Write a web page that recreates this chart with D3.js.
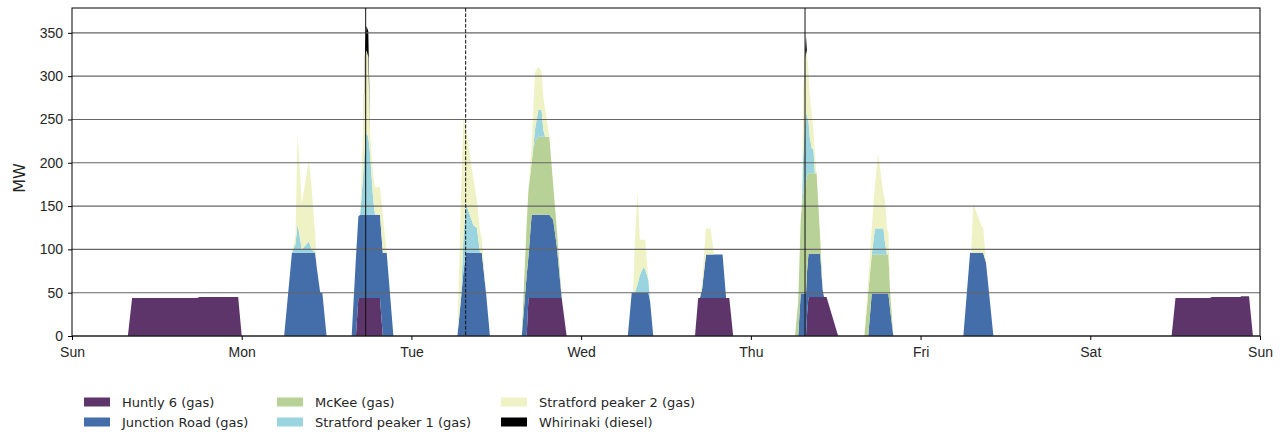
<!DOCTYPE html>
<html>
<head>
<meta charset="utf-8">
<script src="https://cdn.jsdelivr.net/npm/d3@7"></script>
<style>
  body { margin: 0; background: #fff; }
  svg { display: block; font-family: "DejaVu Sans", sans-serif; }
</style>
</head>
<body>
<div id="chart"></div>
<script>
// time in hours since Sunday 00:00, one line per dispatch event
const hours = [0,
  7.9, 8.5, 17.7, 18.0, 23.5, 24.0,
  30.0, 31.1, 31.6, 31.9, 32.5, 33.5, 33.9, 34.4, 34.6, 35.1, 35.4, 36.0,
  39.55, 40.15, 40.5, 40.75, 41.15, 41.45, 41.65, 41.9, 42.15, 42.6, 42.85, 43.45, 43.55, 43.95, 44.5, 45.45,
  54.5, 55.0, 55.35, 55.7, 56.5, 56.75, 57.25, 57.7, 57.95, 58.55, 59.1,
  63.6, 64.3, 64.55, 65.0, 65.25, 65.5, 65.95, 66.4, 66.65, 66.9, 67.5, 68.05, 68.55, 69.25, 69.95,
  78.6, 79.15, 79.35, 79.6, 80.0, 80.3, 80.55, 80.8, 81.05, 81.5, 81.75, 82.2,
  88.1, 88.55, 88.8, 89.1, 89.65, 90.3, 90.8, 92.0, 92.5, 92.95, 93.5,
  102.25, 102.7, 103.05, 103.2, 103.4, 103.65, 103.8, 103.95, 104.15, 104.35, 104.6, 104.85, 105.05, 105.3, 105.8, 106.15, 106.35, 106.7, 108.35,
  112.05, 112.6, 113.1, 113.55, 114.0, 114.5, 114.75, 114.95, 115.25, 115.45, 115.7, 116.15,
  126.05, 127.0, 127.15, 127.45, 128.0, 128.65, 128.85, 129.25, 130.3,
  155.5, 156.05, 160.9, 161.2, 165.2, 165.35, 166.45, 167.0,
  168];

// MW per unit, same positions as hours
const huntly = [0,
  0, 44, 44, 45, 45, 0,
  0, 0, 0, 0, 0, 0, 0, 0, 0, 0, 0, 0,
  0, 0, 44, 44, 44, 44, 44, 44, 44, 44, 44, 44, 44, 0, 0, 0,
  0, 0, 0, 0, 0, 0, 0, 0, 0, 0, 0,
  0, 0, 44, 44, 44, 44, 44, 44, 44, 44, 44, 44, 44, 44, 0,
  0, 0, 0, 0, 0, 0, 0, 0, 0, 0, 0, 0,
  0, 44, 44, 44, 44, 44, 44, 44, 44, 44, 0,
  0, 0, 0, 0, 0, 0, 0, 25, 45, 45, 45, 45, 45, 45, 45, 45, 45, 45, 0,
  0, 0, 0, 0, 0, 0, 0, 0, 0, 0, 0, 0,
  0, 0, 0, 0, 0, 0, 0, 0, 0,
  0, 44, 44, 45, 45, 46, 46, 0,
  0];

const junctionRoad = [0,
  0, 0, 0, 0, 0, 0,
  0, 96, 96, 96, 96, 96, 96, 96, 80, 50, 50, 0,
  0, 90, 94, 96, 96, 96, 96, 96, 96, 96, 96, 96, 96, 96, 96, 0,
  0, 42, 73, 96, 96, 96, 96, 96, 96, 50, 0,
  0, 70, 48, 96, 96, 96, 96, 96, 96, 96, 96, 90, 60, 0, 0,
  0, 50, 50, 50, 50, 50, 50, 50, 50, 50, 40, 0,
  0, 0, 0, 10, 50, 50, 50, 50, 0, 0, 0,
  0, 0, 49, 49, 49, 49, 49, 50, 50, 50, 50, 50, 50, 50, 50, 8, 0, 0, 0,
  0, 0, 49, 49, 49, 49, 49, 49, 49, 49, 30, 0,
  0, 96, 96, 96, 96, 96, 96, 85, 0,
  0, 0, 0, 0, 0, 0, 0, 0,
  0];

const mckee = [0,
  0, 0, 0, 0, 0, 0,
  0, 0, 0, 0, 0, 0, 0, 0, 0, 0, 0, 0,
  0, 0, 0, 0, 0, 0, 0, 0, 0, 0, 0, 0, 0, 0, 0, 0,
  0, 0, 0, 0, 0, 0, 0, 0, 0, 0, 0,
  0, 60, 77, 60, 75, 85, 90, 90, 90, 90, 90, 40, 20, 0, 0,
  0, 0, 0, 0, 0, 0, 0, 0, 0, 0, 0, 0,
  0, 0, 0, 0, 0, 0, 0, 0, 0, 0, 0,
  0, 40, 85, 100, 115, 125, 130, 110, 93, 93, 93, 93, 93, 93, 18, 0, 0, 0, 0,
  0, 50, 45, 45, 45, 45, 45, 45, 45, 45, 20, 0,
  0, 0, 0, 0, 0, 0, 0, 0, 0,
  0, 0, 0, 0, 0, 0, 0, 0,
  0];

const stratford1 = [0,
  0, 0, 0, 0, 0, 0,
  0, 0, 10, 34, 4, 13, 4, 0, 0, 0, 0, 0,
  0, 0, 0, 0, 43, 85, 94, 90, 70, 17, 0, 0, 0, 0, 0, 0,
  0, 0, 40, 57, 38, 32, 29, 0, 0, 0, 0,
  0, 0, 0, 0, 5, 15, 31, 31, 8, 0, 0, 0, 0, 0, 0,
  0, 0, 0, 0, 10, 20, 25, 29, 27, 15, 0, 0,
  0, 0, 0, 0, 0, 0, 0, 0, 0, 0, 0,
  0, 0, 0, 0, 45, 68, 78, 70, 60, 40, 29, 27, 0, 0, 0, 0, 0, 0, 0,
  0, 0, 0, 30, 30, 30, 30, 15, 0, 0, 0, 0,
  0, 0, 0, 0, 0, 0, 0, 0, 0,
  0, 0, 0, 0, 0, 0, 0, 0,
  0];

const stratford2 = [0,
  0, 0, 0, 0, 0, 0,
  0, 0, 10, 104, 53, 94, 70, 20, 0, 0, 0, 0,
  0, 0, 0, 0, 52, 100, 96, 92, 24, 27, 32, 32, 32, 44, 0, 0,
  0, 115, 139, 88, 61, 54, 32, 25, 17, 0, 0,
  0, 0, 0, 20, 45, 65, 50, 45, 38, 32, 0, 0, 0, 0, 0,
  0, 0, 0, 60, 106, 41, 36, 32, 34, 0, 0, 0,
  0, 0, 0, 10, 30, 30, 0, 0, 0, 0, 0,
  0, 0, 0, 0, 60, 78, 73, 70, 57, 48, 40, 23, 23, 0, 0, 0, 0, 0, 0,
  0, 15, 31, 50, 87, 55, 40, 48, 30, 25, 0, 0,
  0, 0, 0, 57, 45, 30, 30, 0, 0,
  0, 0, 0, 0, 0, 0, 0, 0,
  0];

const whirinaki = [0,
  0, 0, 0, 0, 0, 0,
  0, 0, 0, 0, 0, 0, 0, 0, 0, 0, 0, 0,
  0, 0, 0, 0, 0, 8, 28, 30, 0, 0, 0, 0, 0, 0, 0, 0,
  0, 0, 0, 0, 0, 0, 0, 0, 0, 0, 0,
  0, 0, 0, 0, 0, 0, 0, 0, 0, 0, 0, 0, 0, 0, 0,
  0, 0, 0, 0, 0, 0, 0, 0, 0, 0, 0, 0,
  0, 0, 0, 0, 0, 0, 0, 0, 0, 0, 0,
  0, 0, 0, 0, 0, 4, 16, 0, 0, 0, 0, 0, 0, 0, 0, 0, 0, 0, 0,
  0, 0, 0, 0, 0, 0, 0, 0, 0, 0, 0, 0,
  0, 0, 0, 0, 0, 0, 0, 0, 0,
  0, 0, 0, 0, 0, 0, 0, 0,
  0];

const seriesNames = ['Huntly 6 (gas)', 'Junction Road (gas)', 'McKee (gas)',
  'Stratford peaker 1 (gas)', 'Stratford peaker 2 (gas)', 'Whirinaki (diesel)'];
const seriesColors = ['#5d356a', '#436eaa', '#b8d196', '#99d4df', '#eef2c4', '#000000'];
const dayLabels = ['Sun', 'Mon', 'Tue', 'Wed', 'Thu', 'Fri', 'Sat', 'Sun'];
const yTicks = [0, 50, 100, 150, 200, 250, 300, 350];
// event marker lines (hours) and whether dashed
const markerHours = [41.53, 55.67, 103.66];
const markerDashed = [false, true, false];

const W = 1286, H = 434;
const margin = { top: 8, left: 72, right: 26, bottom: 98 };
const width = W - margin.left - margin.right,
	height = H - margin.top - margin.bottom;

const values = [huntly, junctionRoad, mckee, stratford1, stratford2, whirinaki];
const table = hours.map((h, i) => {
	let row = { h };
	seriesNames.forEach((name, k) => row[name] = values[k][i]);
	return row;
});

const svg = d3.select('#chart').append('svg')
	.attr('width', W)
	.attr('height', H);

const g = svg.append('g')
	.attr('transform', `translate(${margin.left},${margin.top})`);

const x = d3.scaleLinear().domain([0, 168]).range([0, width]);
const y = d3.scaleLinear().domain([0, 378.7]).range([height, 0]);

const stacked = d3.stack().keys(seriesNames)(table);

const area = d3.area()
	.x(d => x(d.data.h))
	.y0(d => y(d[0]))
	.y1(d => y(d[1]));

g.selectAll('path.layer')
	.data(stacked)
	.enter().append('path')
	.attr('class', 'layer')
	.attr('d', area)
	.attr('fill', (d, i) => seriesColors[i]);

//horizontal grid on top of the areas
g.selectAll('line.grid')
	.data(yTicks)
	.enter().append('line')
	.attr('class', 'grid')
	.attr('x1', 0).attr('x2', width)
	.attr('y1', d => y(d)).attr('y2', d => y(d))
	.attr('stroke', '#666')
	.attr('stroke-width', 1.1);

g.selectAll('line.marker')
	.data(markerHours)
	.enter().append('line')
	.attr('class', 'marker')
	.attr('x1', d => x(d)).attr('x2', d => x(d))
	.attr('y1', 0).attr('y2', height)
	.attr('stroke', '#111')
	.attr('stroke-width', 1)
	.attr('stroke-dasharray', (d, i) => markerDashed[i] ? '3.7,1.6' : null);

//axes
const yAxis = g.append('g')
	.call(d3.axisLeft(y).tickValues(yTicks).tickSizeInner(4).tickSizeOuter(0).tickPadding(5));
const xAxis = g.append('g')
	.attr('transform', `translate(0,${height})`)
	.call(d3.axisBottom(x).tickValues(d3.range(0, 169, 24)).tickFormat((d, i) => dayLabels[i])
		.tickSizeInner(4).tickSizeOuter(0).tickPadding(7));

[yAxis, xAxis].forEach(a => {
	a.select('.domain').remove();
	a.selectAll('text').style('font-size', '14px').attr('fill', '#262626');
	a.selectAll('line').attr('stroke', '#000');
});

g.append('rect')
	.attr('width', width)
	.attr('height', height)
	.attr('fill', 'none')
	.attr('stroke', '#000')
	.attr('stroke-width', 1);

svg.append('text')
	.attr('transform', 'translate(25,178) rotate(-90)')
	.attr('text-anchor', 'middle')
	.style('font-size', '16px')
	.attr('fill', '#262626')
	.text('MW');

//legend, three columns filled top to bottom
const colX = [84, 277, 501];
const rowY = [402, 422];
const legend = svg.selectAll('g.legend')
	.data(seriesNames)
	.enter().append('g')
	.attr('class', 'legend')
	.attr('transform', (d, i) => `translate(${colX[Math.floor(i / 2)]},${rowY[i % 2]})`);

legend.append('rect')
	.attr('x', 0).attr('y', -4.5)
	.attr('width', 26).attr('height', 9)
	.attr('fill', (d, i) => seriesColors[i]);

legend.append('text')
	.attr('x', 38)
	.attr('y', 5)
	.style('font-size', '13px')
	.attr('fill', '#262626')
	.text(d => d);
</script>
</body>
</html>
